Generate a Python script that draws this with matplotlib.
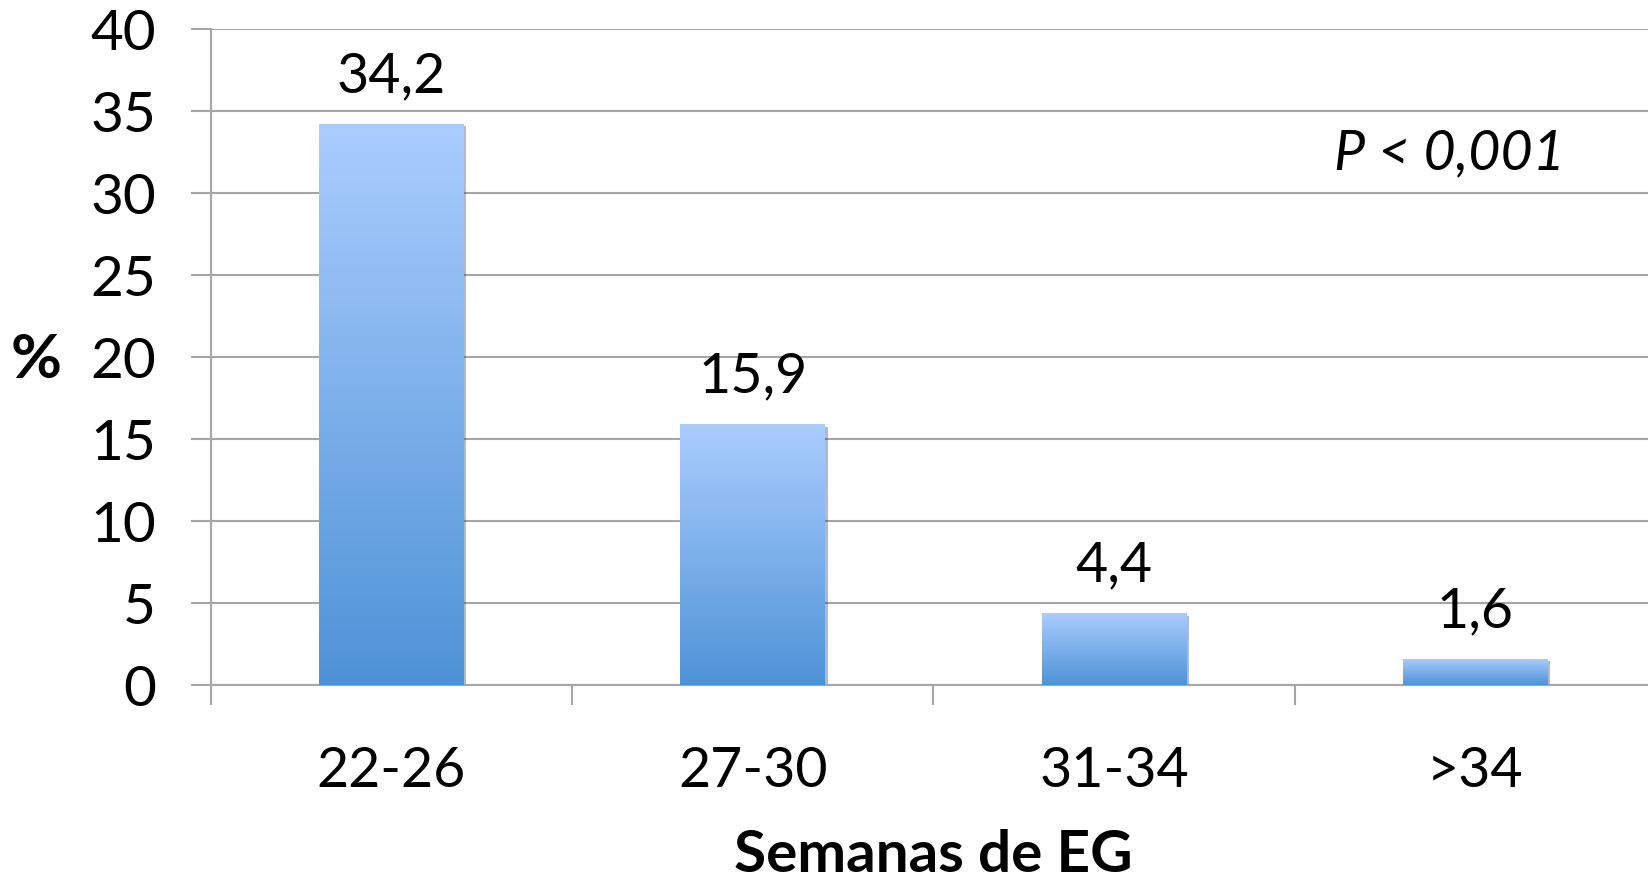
import numpy as np
import matplotlib
matplotlib.use("Agg")
import matplotlib.pyplot as plt
from matplotlib.colors import LinearSegmentedColormap
import matplotlib.patheffects as pe

categories = ['22-26', '27-30', '31-34', '>34']
values = [34.2, 15.9, 4.4, 1.6]
value_labels = ['34,2', '15,9', '4,4', '1,6']
y_ticks = [0, 5, 10, 15, 20, 25, 30, 35, 40]
x_title = 'Semanas de EG'
y_title = '%'
annotation = 'P < 0,001'

FONT = 'Lato'
FS = 40
GRID = '#A6A6A6'

fig = plt.figure(figsize=(16.49, 8.79), dpi=100)
ax = fig.add_axes([0.1278, 0.2196, 0.8764, 0.7468])

ax.set_xlim(-0.5, 3.5)
ax.set_ylim(0, 40)
ax.set_yticks(y_ticks)
ax.set_yticklabels([str(t) for t in y_ticks], fontsize=FS * 1.02, family=FONT)
ax.yaxis.grid(True, color=GRID, linewidth=1.5)
ax.set_axisbelow(True)
ax.tick_params(axis='y', length=14.4, width=1.5, color=GRID, pad=25)

ax.set_xticks(np.arange(len(categories)))
ax.set_xticklabels(categories, fontsize=FS, family=FONT)
ax.tick_params(axis='x', which='major', length=0, pad=43)
ax.set_xticks(np.arange(-0.5, len(categories), 1.0), minor=True)
ax.tick_params(axis='x', which='minor', length=14.4, width=1.5, color=GRID)

for s in ['top', 'right']:
    ax.spines[s].set_visible(False)
for s in ['left', 'bottom']:
    ax.spines[s].set_color(GRID)
    ax.spines[s].set_linewidth(1.5)

cmap = LinearSegmentedColormap.from_list('g', ['#4E93D7', '#ABCDFE'])
grad = np.linspace(0, 1, 256).reshape(-1, 1)

bars = ax.bar(np.arange(len(categories)), values, width=0.4, color='none',
              edgecolor='none', zorder=3)
for b, lab in zip(bars, value_labels):
    x0, w, h = b.get_x(), b.get_width(), b.get_height()
    shadow = plt.Rectangle((x0, 0), w, h, facecolor='#bbbbbb', edgecolor='none',
                           zorder=2.5, alpha=0.5,
                           path_effects=[pe.SimplePatchShadow(offset=(2, -2), alpha=0.35)])
    ax.add_patch(shadow)
    im = ax.imshow(grad, extent=(x0, x0 + w, 0, h), origin='lower', cmap=cmap,
                   aspect='auto', zorder=3, interpolation='bilinear')
    clip = plt.Rectangle((x0, 0), w, h, transform=ax.transData, facecolor='none',
                         edgecolor='none')
    ax.add_patch(clip)
    im.set_clip_path(clip)
    ax.annotate(lab, (x0 + w / 2, h), xytext=(0, 16), textcoords='offset points',
                ha='center', va='bottom', fontsize=FS, family=FONT)

ax.set_xlim(-0.5, 3.5)
ax.set_ylim(0, 40)

fig.text(933 / 1649, 1 - 872 / 879, x_title, ha='center', va='baseline',
         fontsize=FS * 1.05, family=FONT, fontweight='bold')
fig.text(36 / 1649, 1 - 360 / 879, y_title, ha='center', va='center',
         fontsize=FS * 1.12, family=FONT, fontweight='bold')
fig.text(1450 / 1649, 1 - 154 / 879, annotation, ha='center', va='center',
         fontsize=FS, family=FONT, style='italic')

fig.savefig('out.png', dpi=100)
